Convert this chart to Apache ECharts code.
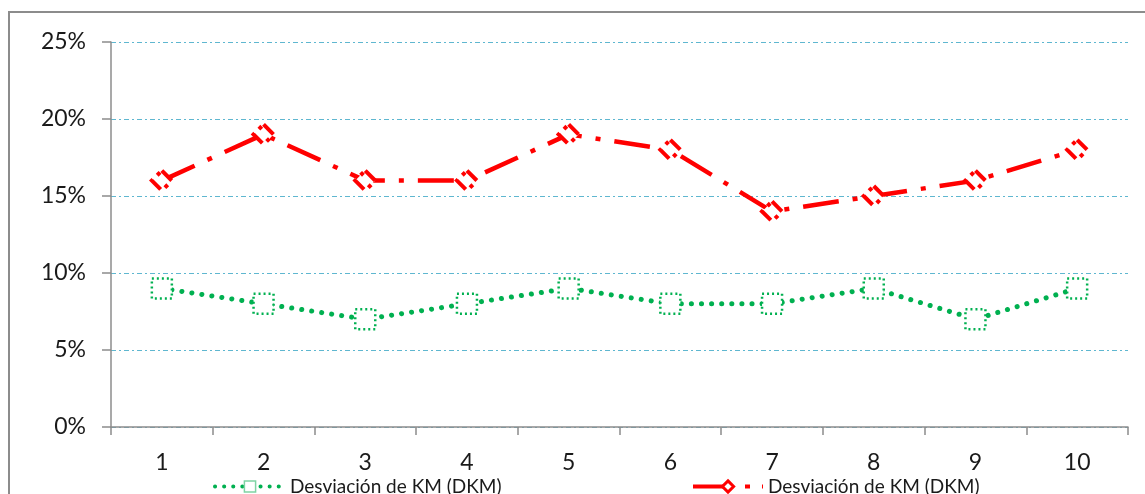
<!DOCTYPE html>
<html>
<head>
<meta charset="utf-8">
<script src="https://cdn.jsdelivr.net/npm/echarts@6/dist/echarts.min.js"></script>
<style>
  html, body { margin: 0; padding: 0; background: #fff; }
  #chart { width: 1145px; height: 494px; }
</style>
</head>
<body>
<div id="chart"></div>
<script>
// Category labels and series values (percent)
const categories = ['1', '2', '3', '4', '5', '6', '7', '8', '9', '10'];
const greenValues = [9, 8, 7, 8, 9, 8, 8, 9, 7, 9];
const redValues = [16, 19, 16, 16, 19, 18, 14, 15, 16, 18];
const legendText = 'Desviación de KM (DKM)';
const yTicks = [0, 5, 10, 15, 20, 25];

const FONT = 'Lato, "Open Sans", sans-serif';
const GREEN = '#00B050';
const RED = '#FF0000';
const AXIS = '#8c8c8c';
const TEXT = '#1a1a1a';

const chart = echarts.init(document.getElementById('chart'), null, { renderer: 'canvas' });

chart.setOption({
  animation: false,
  backgroundColor: '#ffffff',
  graphic: [{
    type: 'rect',
    shape: { x: 9, y: 12, width: 1160, height: 500 },
    style: { fill: 'none', stroke: AXIS, lineWidth: 2 },
    silent: true, z: -1
  }],
  grid: { left: 111, right: 17, top: 42, bottom: 67 },
  legend: [
    {
      data: ['dkmA'], left: 208, top: 472, itemWidth: 70, itemHeight: 14, itemGap: 9,
      formatter: () => legendText,
      lineStyle: { width: 4, type: [0.1, 9], cap: 'round' },
      itemStyle: { borderWidth: 1.5, borderType: 'solid', borderColor: '#7fd3a4' },
      textStyle: { fontFamily: FONT, fontSize: 19, color: TEXT }
    },
    {
      data: ['dkmB'], left: 686, top: 472, itemWidth: 70, itemHeight: 14, itemGap: 9,
      formatter: () => legendText,
      lineStyle: { width: 4, type: [40, 12, 5, 12] },
      itemStyle: { borderWidth: 3, borderType: 'solid' },
      textStyle: { fontFamily: FONT, fontSize: 19, color: TEXT }
    }
  ],
  xAxis: {
    type: 'category',
    data: categories,
    boundaryGap: true,
    axisLine: { lineStyle: { color: AXIS, width: 1.5 } },
    axisTick: { show: true, length: 8, lineStyle: { color: AXIS, width: 1.5 } },
    axisLabel: { fontFamily: FONT, fontSize: 23, color: TEXT, margin: 24 },
    splitLine: { show: false }
  },
  yAxis: {
    type: 'value',
    min: yTicks[0], max: yTicks[yTicks.length - 1], interval: 5,
    axisLine: { show: true, lineStyle: { color: AXIS, width: 1.5 } },
    axisTick: { show: true, length: 9, lineStyle: { color: AXIS, width: 1.5 } },
    axisLabel: { fontFamily: FONT, fontSize: 23, color: TEXT, margin: 25, formatter: v => v + '%' },
    splitLine: { show: true, lineStyle: { color: '#5fb7d0', width: 1, type: [5, 3, 2, 3] } }
  },
  series: [
    {
      name: 'dkmA',
      type: 'line',
      data: greenValues,
      symbol: 'rect',
      symbolSize: 20,
      itemStyle: { color: '#ffffff', borderColor: GREEN, borderWidth: 2.5, borderType: [2, 3] },
      lineStyle: { color: GREEN, width: 5, type: [0.1, 10], cap: 'round' },
      z: 3
    },
    {
      name: 'dkmB',
      type: 'line',
      data: redValues,
      symbol: 'diamond',
      symbolSize: 20,
      itemStyle: { color: '#ffffff', borderColor: RED, borderWidth: 4, borderType: [14, 6, 4, 6] },
      lineStyle: { color: RED, width: 4.5, type: [36, 14, 5, 14] },
      z: 4
    }
  ]
});
</script>
</body>
</html>
